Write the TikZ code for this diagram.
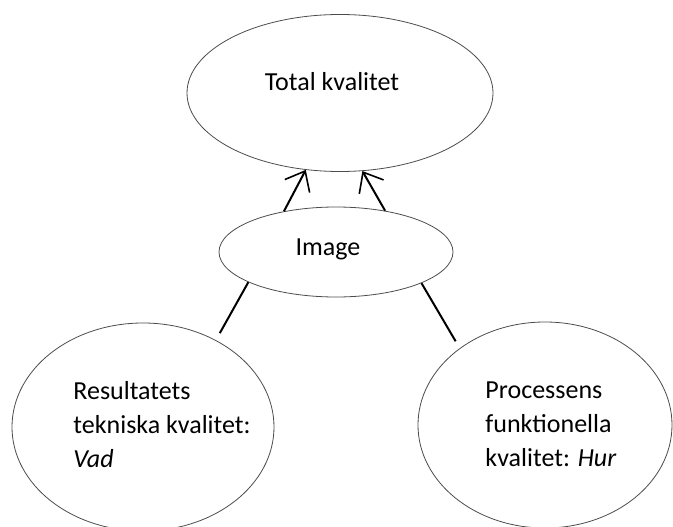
\documentclass[tikz,border=0pt]{standalone}
\usepackage{fontspec}
\setmainfont{Carlito}
\usepackage{tikz}
\usetikzlibrary{arrows.meta,shapes.geometric}

\begin{document}
\begin{tikzpicture}[
    x=1pt, y=-1pt,
    oval/.style={draw=black!70, line width=0.8pt, ellipse, inner sep=0pt, font=\fontsize{26}{34}\selectfont},
    txt/.style={font=\fontsize{26}{34}\selectfont, align=left},
    conn/.style={-{Straight Barb[length=17pt, width=28pt, line width=1.6pt]}, line width=2pt},
    link/.style={line width=2pt}
]
\clip (0,0) rectangle (673,527);
\useasboundingbox (0,0) rectangle (673,527);

% Ellipses
\node[oval, minimum width=306pt, minimum height=157pt,
      label={[txt, xshift=-8pt, yshift=11pt]center:Total kvalitet}] (total) at (340, 93) {};
\node[oval, minimum width=234pt, minimum height=90pt,
      label={[txt, xshift=-8pt, yshift=3pt]center:Image}] (image) at (336, 252) {};
\node[oval, minimum width=262pt, minimum height=208pt,
      label={[txt, xshift=19pt, yshift=2pt]center:{Resultatets\\tekniska kvalitet:\\\textit{Vad}}}] (result) at (143, 427) {};
\node[oval, minimum width=254pt, minimum height=206pt,
      label={[txt, xshift=6pt, yshift=1pt]center:{Processens\\funktionella\\kvalitet: \textit{Hur}}}] (process) at (545, 425) {};

% Connections
\draw[conn] (image.142) -- (total.246);
\draw[conn] (image.40) -- (total.286);
\draw[link, shorten >=8pt] (image.199) -- (result.50);
\draw[link, shorten >=8pt] (image.340) -- (process.138);
\end{tikzpicture}
\end{document}
